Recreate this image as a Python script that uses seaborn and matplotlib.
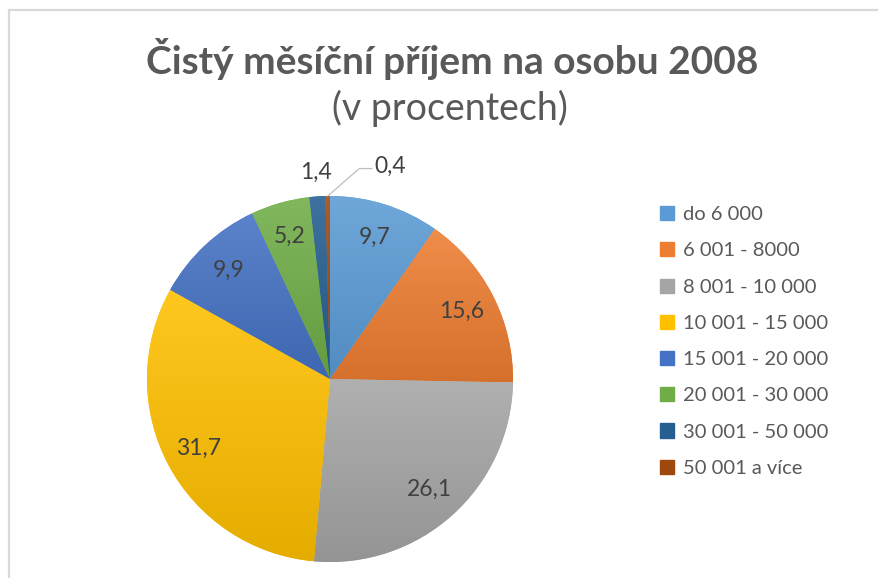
import numpy as np
import matplotlib
matplotlib.use("Agg")
import matplotlib.pyplot as plt
from matplotlib.lines import Line2D
from matplotlib.colors import to_rgb
import seaborn as sns

sns.set_theme(style="white")
plt.rcParams['font.family'] = ['Lato', 'DejaVu Sans']

categories = ["do 6 000", "6 001 - 8000", "8 001 - 10 000", "10 001 - 15 000",
              "15 001 - 20 000", "20 001 - 30 000", "30 001 - 50 000", "50 001 a více"]
values = [9.7, 15.6, 26.1, 31.7, 9.9, 5.2, 1.4, 0.4]
value_labels = ["9,7", "15,6", "26,1", "31,7", "9,9", "5,2", "1,4", "0,4"]
colors = ["#5B9BD5", "#ED7D31", "#A5A5A5", "#FFC000",
          "#4472C4", "#70AD47", "#255E91", "#9E480E"]

W, H = 879, 578
fig = plt.figure(figsize=(W / 100, H / 100), dpi=100)

# frame lines (top and left visible)
fig.add_artist(Line2D([9 / W, 1], [1 - 10 / H, 1 - 10 / H], color="#D9D9D9", lw=1.6))
fig.add_artist(Line2D([9 / W, 9 / W], [1 - 10 / H, 0], color="#D9D9D9", lw=1.6))

fig.text(452 / W, 1 - 59 / H, "Čistý měsíční příjem na osobu 2008", ha="center", va="center",
         fontsize=28, fontweight="bold", color="#595959")
fig.text(450 / W, 1 - 108 / H, "(v procentech)", ha="center", va="center",
         fontsize=27, color="#595959")

cx, cy, r = 330, 379, 183
ax = fig.add_axes([(cx - r) / W, (H - cy - r) / H, 2 * r / W, 2 * r / H])
wedges, _ = ax.pie(values, colors=colors, startangle=90, counterclock=False,
                   radius=1.0, wedgeprops=dict(linewidth=0))
ax.set_xlim(-1, 1)
ax.set_ylim(-1, 1)
ax.set_aspect("equal")
ax.axis("off")

# subtle vertical gradient on each slice (lighter top, darker bottom)
for w, c in zip(wedges, colors):
    base = np.array(to_rgb(c))
    top = base + (1 - base) * 0.12
    bot = base * 0.90
    t = np.linspace(0, 1, 64)[:, None]
    grad = (top[None, :] * (1 - t) + bot[None, :] * t)[:, None, :]
    bb = w.get_path().get_extents(w.get_patch_transform())
    im = ax.imshow(grad, extent=[bb.x0, bb.x1, bb.y0, bb.y1], aspect="auto",
                   origin="upper", zorder=w.get_zorder() + 0.1, interpolation="bilinear")
    im.set_clip_path(w)
ax.set_xlim(-1, 1)
ax.set_ylim(-1, 1)

for i, (w, lab) in enumerate(zip(wedges, value_labels)):
    ang = np.deg2rad((w.theta1 + w.theta2) / 2)
    if values[i] >= 3:
        d = 0.81
        ax.text(d * np.cos(ang), d * np.sin(ang), lab, ha="center", va="center",
                fontsize=16.5, color="#404040", clip_on=False, zorder=5)
    elif i == len(values) - 2:
        d = 1.13
        ax.text(d * np.cos(ang), d * np.sin(ang), lab, ha="center", va="center",
                fontsize=16.5, color="#404040", clip_on=False, zorder=5)
    else:
        x0, y0 = np.cos(ang), np.sin(ang)
        ax.plot([x0, 0.16, 0.23], [y0, 1.15, 1.15], color="#BFBFBF", lw=0.9,
                clip_on=False, zorder=5)
        ax.text(0.245, 1.16, lab, ha="left", va="center",
                fontsize=16.5, color="#404040", clip_on=False, zorder=5)

# legend
handles = [plt.Rectangle((0, 0), 1, 1, color=c) for c in colors]
leg = fig.legend(handles, categories, loc="upper left",
                 bbox_to_anchor=(652 / W, 1 - 198 / H), frameon=False,
                 fontsize=14.5, labelcolor="#595959", handlelength=0.7, handleheight=0.7,
                 handletextpad=0.45, labelspacing=0.95, borderaxespad=0)

fig.savefig("out.png", dpi=100)
